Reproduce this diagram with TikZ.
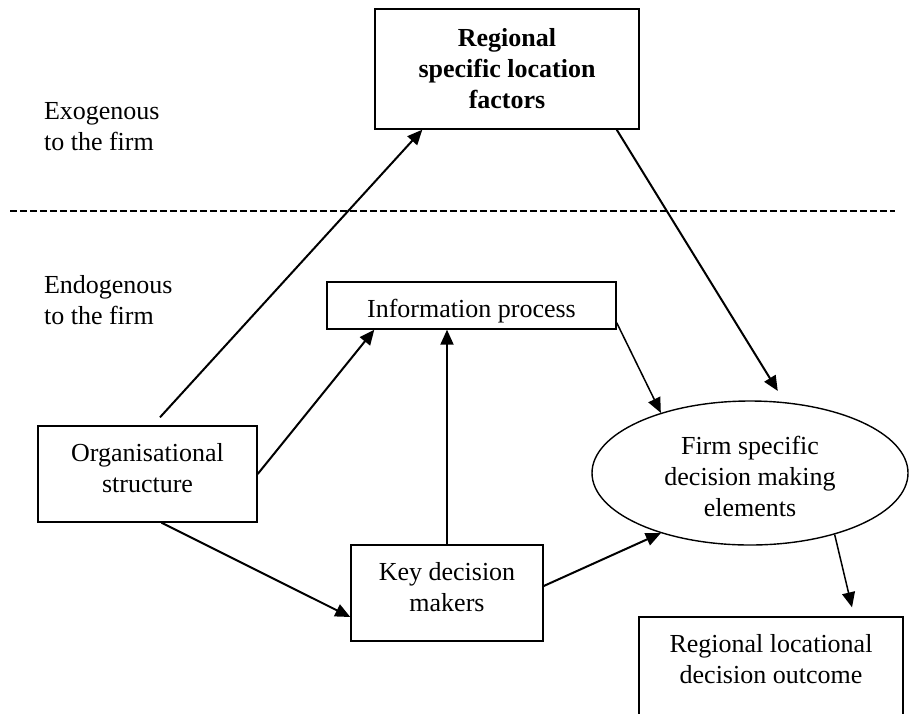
\documentclass[tikz,border=0pt]{standalone}
\usepackage{fontspec}
\setmainfont{Liberation Serif}
\usetikzlibrary{arrows.meta,shapes.geometric}
\begin{document}
\begin{tikzpicture}[x=0.5pt,y=-0.5pt,
  font=\fontsize{13pt}{15.5pt}\selectfont,
  box/.style={draw,line width=.7pt,inner sep=0pt,align=center},
  arr/.style={-{Triangle[length=7.5pt,width=6.5pt]},line width=1pt},
  thinarr/.style={arr,line width=.75pt}]
  \useasboundingbox (0,0) rectangle (909,713);
  \clip (0,0) rectangle (909,713);
  \node[box,minimum width=132pt,minimum height=60pt,font=\fontsize{13pt}{15.5pt}\selectfont\bfseries] (factors) at (507,69) {Regional\\specific location\\factors};
  \node[box,minimum width=144.5pt,minimum height=23.5pt,text height=15pt] (info) at (471.5,305.5) {Information process};
  \node[box,minimum width=109.5pt,minimum height=48pt,text depth=6pt] (org) at (147.5,474) {Organisational\\structure};
  \node[box,minimum width=96pt,minimum height=48pt,text depth=6pt] (key) at (447,593) {Key decision\\makers};
  \node[box,ellipse,minimum width=158pt,minimum height=72pt,text height=44pt] (firm) at (750,473) {Firm specific\\decision making\\elements};
  \node[box,minimum width=132pt,minimum height=52pt,text depth=10pt] (outcome) at (771,669) {Regional locational\\decision outcome};
  \node[anchor=west,align=left] (exo) at (37,126.5) {Exogenous\\to the firm};
  \node[anchor=west,align=left] (endo) at (37,300) {Endogenous\\to the firm};
  \draw[line width=.8pt,dash pattern=on 3.5pt off 1.5pt] (10,211) -- (895,211);
  \draw[arr] ([xshift=6.25pt,yshift=4pt]org.north) -- ([xshift=24pt]factors.south west);
  \draw[arr] (org.east) -- ([xshift=24pt]info.south west);
  \draw[arr] ([xshift=7pt]org.south) -- ([yshift=-12pt]key.west);
  \draw[arr] (key.north) -- (key.north |- info.south);
  \draw[thinarr] ([yshift=3.5pt]info.south east) -- (firm.146);
  \draw[arr,shorten >=6.5pt] ([xshift=-11.5pt]factors.south east) -- (firm.64);
  \draw[arr] ([yshift=3.5pt]key.east) -- (firm.214);
  \draw[thinarr] (firm.-36) -- ([xshift=40.5pt,yshift=4.5pt]outcome.north);
\end{tikzpicture}
\end{document}
